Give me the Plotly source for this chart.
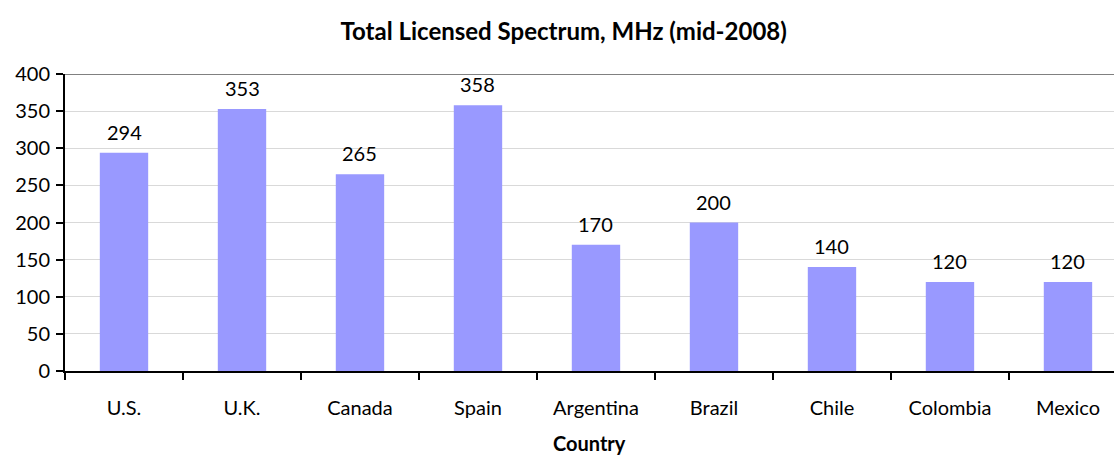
import plotly.graph_objects as go

countries = ["U.S.", "U.K.", "Canada", "Spain", "Argentina", "Brazil", "Chile", "Colombia", "Mexico"]
spectrum = [294, 353, 265, 358, 170, 200, 140, 120, 120]
y_ticks = [0, 50, 100, 150, 200, 250, 300, 350, 400]

FONT = "Lato"
BAR = "#9999FF"

fig = go.Figure()
fig.add_trace(go.Bar(
    x=countries, y=spectrum, marker=dict(color=BAR, line=dict(width=0)),
    width=0.41, hoverinfo="skip",
))

for c, v in zip(countries, spectrum):
    fig.add_annotation(x=c, y=v, text=str(v), showarrow=False, yanchor="bottom",
                       yshift=7, font=dict(family=FONT, size=20, color="#000000"))

fig.add_shape(type="line", xref="paper", yref="y", x0=0, x1=1, y0=400, y1=400,
              line=dict(color="#808080", width=2), layer="above")

fig.add_annotation(xref="paper", yref="paper", x=0.5, y=0, yshift=-86,
                   text="<b>Country</b>", showarrow=False,
                   font=dict(family=FONT, size=20, color="#000000"))

fig.update_layout(
    width=1114, height=459,
    margin=dict(l=65, r=0, t=74, b=88),
    paper_bgcolor="white", plot_bgcolor="white",
    showlegend=False,
    title=dict(text="<b>Total Licensed Spectrum, MHz (mid-2008)</b>",
               x=0.506, xanchor="center", xref="container",
               y=1 - 32 / 459, yanchor="middle", yref="container",
               font=dict(family=FONT, size=24, color="#000000")),
    font=dict(family=FONT, size=20, color="#000000"),
    xaxis=dict(
        type="category", range=[-0.5, 8.39],
        showline=True, linecolor="#000000", linewidth=2,
        ticks="outside", tickson="boundaries", ticklen=7, tickwidth=2, tickcolor="#000000",
        showgrid=False, ticklabelstandoff=18,
        tickfont=dict(family=FONT, size=20, color="#000000"),
    ),
    yaxis=dict(
        range=[0, 400], tickvals=y_ticks,
        showline=True, linecolor="#000000", linewidth=2,
        ticks="outside", ticklen=7, tickwidth=2, tickcolor="#000000",
        showgrid=True, gridcolor="#D9D9D9", gridwidth=1,
        zeroline=False, ticklabelstandoff=2,
        tickfont=dict(family=FONT, size=20, color="#000000"),
    ),
)

fig.write_html("out.html", config={"displayModeBar": False},
               post_script="document.body.style.margin='0';document.body.style.overflow='hidden';")
